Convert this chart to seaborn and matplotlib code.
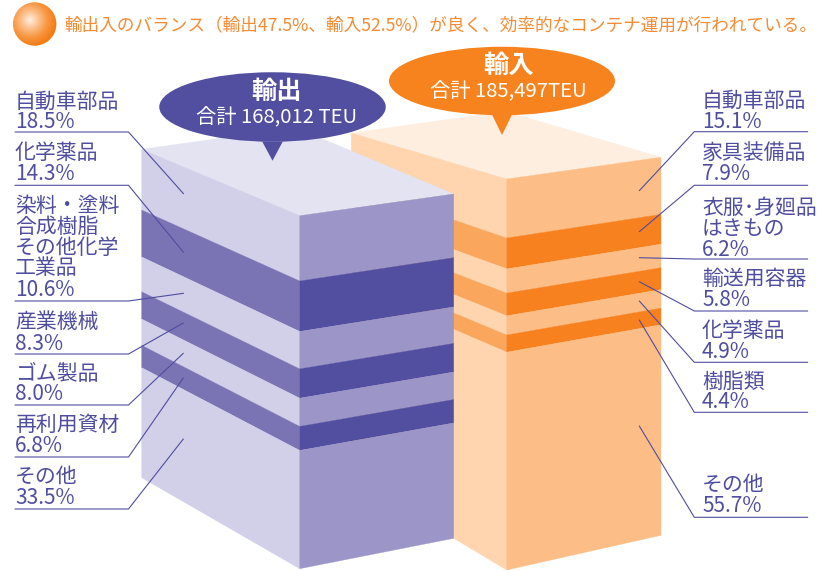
import numpy as np
import matplotlib
matplotlib.use("Agg")
import matplotlib.pyplot as plt
from matplotlib.patches import Circle, Ellipse, Polygon
import seaborn as sns

# ---------- data ----------
export_labels = ["自動車部品", "化学薬品", "染料・塗料\n合成樹脂\nその他化学\n工業品", "産業機械", "ゴム製品", "再利用資材", "その他"]
export_values = [18.5, 14.3, 10.6, 8.3, 8.0, 6.8, 33.5]
import_labels = ["自動車部品", "家具装備品", "衣服･身廻品\nはきもの", "輸送用容器", "化学薬品", "樹脂類", "その他"]
import_values = [15.1, 7.9, 6.2, 5.8, 4.9, 4.4, 55.7]
export_total = "合計 168,012 TEU"
import_total = "合計 185,497TEU"
headline = "輸出入のバランス\uff08輸出47.5%、輸入52.5%\uff09が良く、効率的なコンテナ運用が行われている。"

# ---------- style ----------
sns.set_theme(style="white")
plt.rcParams["font.family"] = ["Noto Sans CJK JP", "DejaVu Sans"]
INK = "#4F4DA0"
ORANGE = "#F7831F"
export_cols = dict(top="#E3E3F1", side=["#D1D0E8", "#7B74B4"], front=["#9C95C7", "#524EA0"])
import_cols = dict(top="#FEEEDF", side=["#FED5AE", "#FAA65C"], front=["#FDBD86", "#F8811F"])

fig = plt.figure(figsize=(8.25, 5.71), dpi=100)
ax = fig.add_axes([0, 0, 1, 1])
sns.despine(ax=ax, left=True, bottom=True)
ax.set_axis_off()


def face(a, b, c, d, color, z):
    ax.add_patch(Polygon([a, b, c, d], closed=True, fc=color, ec=color, lw=0.25, zorder=z))


def block(values, cols, xs, tops, bottoms, z):
    """xs = left, front, right; tops/bottoms = y of the edge at those x."""
    xl, xf, xr = xs
    back = (xl + xr - xf, tops[0] + tops[2] - tops[1])
    face((xl, tops[0]), back, (xr, tops[2]), (xf, tops[1]), cols["top"], z)
    fr = np.concatenate([[0], np.cumsum(values)]) / np.sum(values)
    yl = tops[0] + fr * (bottoms[0] - tops[0])
    yf = tops[1] + fr * (bottoms[1] - tops[1])
    yr = tops[2] + fr * (bottoms[2] - tops[2])
    for i in range(len(values)):
        k = i % 2
        face((xl, yl[i]), (xf, yf[i]), (xf, yf[i + 1]), (xl, yl[i + 1]), cols["side"][k], z)
        face((xf, yf[i]), (xr, yr[i]), (xr, yr[i + 1]), (xf, yf[i + 1]), cols["front"][k], z)


block(import_values, import_cols, (351.3, 506.7, 661), (133, 179, 157.3), (477, 570, 535.3), 1)
block(export_values, export_cols, (141.7, 299.7, 453.7), (149.3, 215.7, 194), (477.7, 568.7, 538.3), 2)


def bubble(cx, cy, w, h, tail_y, tip_y, color, title, total, dx, z):
    ax.add_patch(Ellipse((cx, cy), w, h, fc=color, ec="none", zorder=z))
    ax.add_patch(Polygon([(cx - 10.3, tail_y), (cx + 10.3, tail_y), (cx, tip_y)], fc=color, ec="none", zorder=z))
    ax.text(cx + dx, cy - 15.5, title, color="white", fontsize=18.2, fontweight="bold",
            ha="center", va="center", zorder=z + 1)
    ax.text(cx + dx, cy + 10.5, total, color="white", fontsize=14.6, ha="center", va="center", zorder=z + 1)


bubble(272.5, 107, 226.5, 69.5, 141.5, 160.7, "#524EA0", "輸出", export_total, 4.5, 3)
bubble(502, 81, 226, 68.5, 114, 135, ORANGE, "輸入", import_total, 6.5, 5)


def label_block(labels, values, x, first_y, bends, ends, x0, x1, z=6):
    for name, v, y0, bend, end in zip(labels, values, first_y, bends, ends):
        lines = name.split("\n") + [f"{v}%"]
        for n, line in enumerate(lines):
            ax.text(x, y0 + 1.5 + 21 * n, line, color=INK, fontsize=15, ha="left", va="center", zorder=z)
        ax.plot([x0, x1, end[0]], [bend, bend, end[1]], color=INK, lw=0.8, zorder=z,
                solid_joinstyle="miter")


label_block(export_labels, export_values, 15,
            [100, 151.5, 204, 321, 372, 423, 475],
            [132, 185.3, 301, 354, 405, 457, 509],
            [(183.5, 193.7), (183.5, 252.3), (183.5, 293.3), (183.3, 323), (183.3, 353.3), (183.3, 378), (183.3, 439)],
            15, 128.5)
label_block(import_labels, import_values, 702,
            [99, 151.7, 206, 277, 329.3, 380, 483],
            [131.7, 185.3, 259, 311, 362.3, 412.3, 517.3],
            [(639.3, 190.7), (639.3, 231.7), (639.3, 257.7), (639.3, 281.7), (639.3, 301), (639.3, 320), (639.3, 426)],
            807.7, 694.3)

# headline marker: a shaded ball
ramp = sns.blend_palette(["#FFEFE2", "#FBC08C", "#F7963F", "#F47C14"], n_colors=256, as_cmap=True)
gx, gy = np.meshgrid(np.linspace(13, 56.4, 120), np.linspace(2.3, 45.7, 120))
dist = np.hypot(gx - 30, gy - 20) / 26
img = ax.imshow(dist, extent=(13, 56.4, 45.7, 2.3), cmap=ramp, vmin=0, vmax=1, aspect="auto", zorder=6)
img.set_clip_path(Circle((34.7, 24), 21.7, transform=ax.transData))

ax.text(64, 25, headline, color="#F58B33", fontsize=12.7, ha="left", va="center", zorder=6)

ax.set_xlim(0, 825)
ax.set_ylim(571, 0)
fig.savefig("out.png", dpi=100, facecolor="white")
